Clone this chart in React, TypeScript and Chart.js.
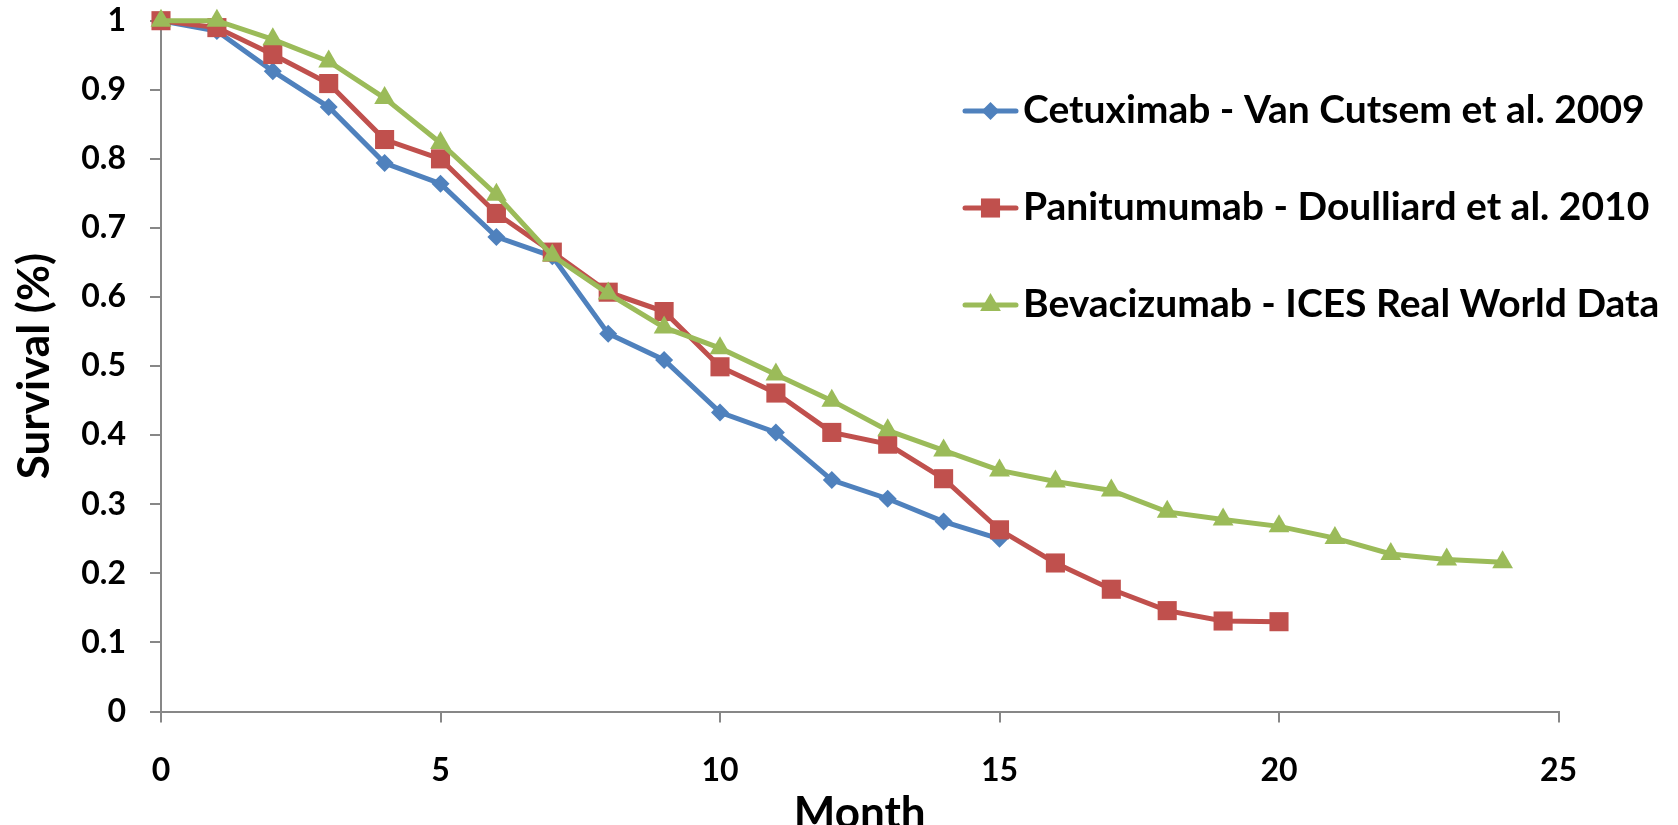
import React, { useEffect, useRef } from 'react';
import { Chart, registerables } from 'chart.js';

Chart.register(...registerables);

const months = [0, 1, 2, 3, 4, 5, 6, 7, 8, 9, 10, 11, 12, 13, 14, 15, 16, 17, 18, 19, 20, 21, 22, 23, 24];

const cetuximab = [1.0, 0.985, 0.927, 0.875, 0.794, 0.764, 0.687, 0.659, 0.547, 0.509, 0.433, 0.404, 0.335, 0.308, 0.275, 0.25];
const panitumumab = [1.0, 0.99, 0.951, 0.909, 0.828, 0.8, 0.721, 0.665, 0.607, 0.579, 0.499, 0.461, 0.404, 0.387, 0.337, 0.263, 0.215, 0.177, 0.146, 0.131, 0.13];
const bevacizumab = [1.0, 1.0, 0.973, 0.941, 0.888, 0.823, 0.748, 0.66, 0.605, 0.556, 0.526, 0.488, 0.45, 0.407, 0.378, 0.349, 0.333, 0.32, 0.289, 0.278, 0.268, 0.251, 0.228, 0.22, 0.216];

const seriesNames = [
  'Cetuximab - Van Cutsem et al. 2009',
  'Panitumumab - Doulliard et al. 2010',
  'Bevacizumab - ICES Real World Data',
];
const seriesColors = ['#4F81BD', '#C0504D', '#9BBB59'];
const seriesMarkers = ['rectRot', 'rect', 'triangle'];
const seriesMarkerRadius = [9, 13.5, 12];

const xTicks = [0, 5, 10, 15, 20, 25];
const yTicks = [0, 0.1, 0.2, 0.3, 0.4, 0.5, 0.6, 0.7, 0.8, 0.9, 1];

const xTitle = 'Month';
const yTitle = 'Survival (%)';

const FONT = 'Lato';
const AXIS_GRAY = '#878787';

function toPoints(values: number[]) {
  return values.map((v, i) => ({ x: months[i], y: v }));
}

function drawMarker(ctx: CanvasRenderingContext2D, style: string, x: number, y: number, r: number) {
  ctx.beginPath();
  if (style === 'rect') {
    const s = Math.SQRT1_2 * r;
    ctx.rect(x - s, y - s, 2 * s, 2 * s);
  } else if (style === 'rectRot') {
    ctx.moveTo(x, y - r);
    ctx.lineTo(x + r, y);
    ctx.lineTo(x, y + r);
    ctx.lineTo(x - r, y);
    ctx.closePath();
  } else {
    for (let k = 0; k < 3; k++) {
      const a = (k * 2 * Math.PI) / 3;
      const px = x + Math.sin(a) * r;
      const py = y - Math.cos(a) * r;
      if (k === 0) ctx.moveTo(px, py);
      else ctx.lineTo(px, py);
    }
    ctx.closePath();
  }
  ctx.fill();
}

const legendPlugin = {
  id: 'customLegend',
  afterDraw(chart: any) {
    const ctx: CanvasRenderingContext2D = chart.ctx;
    const lineX0 = 965;
    const lineX1 = 1016;
    const textX = 1023;
    const rowY0 = 111;
    const rowGap = 97;
    ctx.save();
    seriesNames.forEach((name, i) => {
      const y = rowY0 + i * rowGap;
      ctx.strokeStyle = seriesColors[i];
      ctx.fillStyle = seriesColors[i];
      ctx.lineWidth = 5;
      ctx.lineCap = 'round';
      ctx.beginPath();
      ctx.moveTo(lineX0, y);
      ctx.lineTo(lineX1, y);
      ctx.stroke();
      drawMarker(ctx, seriesMarkers[i], (lineX0 + lineX1) / 2, y, seriesMarkerRadius[i]);
      ctx.fillStyle = '#000000';
      ctx.font = `bold 39px ${FONT}`;
      ctx.textAlign = 'left';
      ctx.textBaseline = 'alphabetic';
      ctx.fillText(name, textX, y + 12);
    });
    ctx.restore();
  },
};

export default function App() {
  const canvasRef = useRef<HTMLCanvasElement | null>(null);

  useEffect(() => {
    if (!canvasRef.current) return;
    const allValues = [cetuximab, panitumumab, bevacizumab];
    const chart = new Chart(canvasRef.current, {
      type: 'line',
      data: {
        datasets: allValues.map((vals, i) => ({
          label: seriesNames[i],
          data: toPoints(vals),
          borderColor: seriesColors[i],
          backgroundColor: seriesColors[i],
          borderWidth: 5,
          pointStyle: seriesMarkers[i] as any,
          pointRadius: seriesMarkerRadius[i],
          pointBorderWidth: 0,
          pointBackgroundColor: seriesColors[i],
          pointBorderColor: seriesColors[i],
          tension: 0,
          fill: false,
          clip: false as any,
          order: 2 - i,
        })),
      },
      options: {
        animation: false,
        responsive: false,
        maintainAspectRatio: false,
        devicePixelRatio: 1,
        layout: { padding: { left: 0, right: 119.5, top: 20.7, bottom: 0 } },
        plugins: {
          legend: { display: false },
          tooltip: { enabled: false },
        },
        scales: {
          x: {
            type: 'linear',
            min: 0,
            max: 25,
            afterBuildTicks: (scale: any) => {
              scale.ticks = xTicks.map((v) => ({ value: v }));
            },
            afterFit: (scale: any) => {
              scale.height = 113.5;
              scale.paddingLeft = 0;
              scale.paddingRight = 0;
            },
            ticks: {
              color: '#000000',
              font: { family: FONT, size: 32, weight: 'bold' },
              padding: 29,
              maxRotation: 0,
              callback: (v: any) => String(v),
            },
            grid: {
              drawOnChartArea: false,
              drawTicks: true,
              tickLength: 11,
              color: AXIS_GRAY,
              lineWidth: 2,
            },
            border: { display: true, color: AXIS_GRAY, width: 2 },
            title: {
              display: true,
              text: xTitle,
              color: '#000000',
              font: { family: FONT, size: 44, weight: 'bold', lineHeight: 1 },
              padding: { top: 0, bottom: -11 },
            },
          },
          y: {
            type: 'linear',
            min: 0,
            max: 1,
            afterBuildTicks: (scale: any) => {
              scale.ticks = yTicks.map((v) => ({ value: v }));
            },
            afterFit: (scale: any) => {
              scale.width = 161;
              scale.paddingTop = 0;
              scale.paddingBottom = 0;
            },
            ticks: {
              color: '#000000',
              font: { family: FONT, size: 32, weight: 'bold' },
              padding: 24,
              callback: (v: any) => String(v),
            },
            grid: {
              drawOnChartArea: false,
              drawTicks: true,
              tickLength: 11,
              color: AXIS_GRAY,
              lineWidth: 2,
            },
            border: { display: true, color: AXIS_GRAY, width: 2 },
            title: {
              display: true,
              text: yTitle,
              color: '#000000',
              font: { family: FONT, size: 44, weight: 'bold', lineHeight: 1 },
              padding: { top: 13, bottom: 0 },
            },
          },
        },
      } as any,
      plugins: [legendPlugin],
    });
    return () => chart.destroy();
  }, []);

  return (
    <div style={{ position: 'absolute', left: 0, top: 0, width: 1678, height: 825, background: '#ffffff' }}>
      <canvas ref={canvasRef} width={1678} height={825} style={{ display: 'block', width: 1678, height: 825 }} />
    </div>
  );
}
